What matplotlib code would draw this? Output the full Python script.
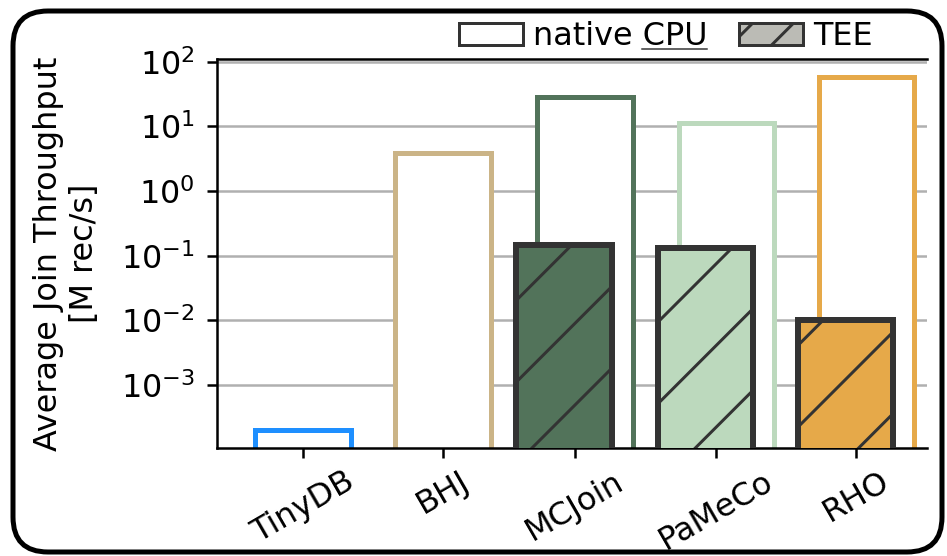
import numpy as np
import matplotlib
matplotlib.use('Agg')
import matplotlib.pyplot as plt
from matplotlib.patches import Patch, FancyBboxPatch
from matplotlib.lines import Line2D
from matplotlib.ticker import LogLocator, NullLocator
from matplotlib.transforms import IdentityTransform

# rendered at a high dpi; sizes below are given in pixels
DPI = 490
PX = 72.0 / DPI  # one pixel in points

# throughput in M rec/s (nan = no TEE run)
joins = ['TinyDB', 'BHJ', 'MCJoin', 'PaMeCo', 'RHO']
native_cpu = [2.0e-4, 3.9, 28.5, 11.1, 58.0]
tee = [np.nan, np.nan, 0.147, 0.134, 0.0102]
join_colors = ['#1e8fff', '#cbb487', '#52735a', '#bcd9bd', '#e6a949']
group_pos = [0, 1, 1.94, 2.95, 3.95]

FS = 32 * PX
bar_w = 0.68
shift = 0.075
floor = 1e-6

plt.rcParams['hatch.linewidth'] = 3 * PX

fig = plt.figure(figsize=(947 / DPI, 556 / DPI), dpi=DPI, facecolor='white')
ax = fig.add_axes([217 / 947, 108 / 556, 710 / 947, 389 / 556])

for x, nat, t, c in zip(group_pos, native_cpu, tee, join_colors):
    off = 0 if np.isnan(t) else shift
    ax.bar(x + off, nat, width=bar_w, bottom=floor, color='white',
           edgecolor=c, linewidth=5 * PX, zorder=2)
    if not np.isnan(t):
        ax.bar(x - off, t, width=bar_w, bottom=floor, color=c,
               edgecolor='#333333', linewidth=6 * PX, hatch='//', zorder=3)

ax.set_yscale('log')
ax.set_ylim(1.07e-4, 110)
ax.set_xlim(-0.614, 4.457)
ax.yaxis.set_major_locator(LogLocator(base=10, numticks=20))
ax.yaxis.set_minor_locator(NullLocator())

ax.set_xticks(group_pos)
ax.set_xticklabels(joins, rotation=30, ha='center')
ax.tick_params(axis='both', which='major', labelsize=FS, length=10 * PX,
               width=2.5 * PX, color='black')
ax.tick_params(axis='y', pad=12 * PX)
ax.tick_params(axis='x', pad=8 * PX)

ax.yaxis.grid(True, which='major', color='#b0b0b0', linewidth=2.5 * PX)
ax.set_axisbelow(True)

for side in ['left', 'bottom', 'top']:
    ax.spines[side].set_linewidth(2.5 * PX)
ax.spines['right'].set_visible(False)

ax.set_ylabel('Average Join Throughput\n[M rec/s]', fontsize=FS)
ax.yaxis.set_label_coords(-0.165, 0.5)

handles = [
    Patch(facecolor='white', edgecolor='#333333', linewidth=3 * PX, label='native CPU'),
    Patch(facecolor='#bbbbb5', edgecolor='#333333', linewidth=3 * PX, hatch='////', label='TEE'),
]
leg = ax.legend(handles=handles, loc='lower right', bbox_to_anchor=(0.941, 0.985),
                ncol=2, frameon=False, fontsize=FS, handletextpad=0.3,
                columnspacing=1.0, borderaxespad=0)

# rounded frame around the whole figure (pixel coordinates)
frame = FancyBboxPatch((13, 4), 929, 541, boxstyle='round,pad=0,rounding_size=35',
                       transform=IdentityTransform(), fill=False,
                       edgecolor='black', linewidth=5 * PX)
fig.add_artist(frame)

# underline "CPU" in the legend label
fig.canvas.draw()
renderer = fig.canvas.get_renderer()
bb = leg.get_texts()[0].get_window_extent(renderer)
probe = fig.text(0, 0, 'CPU', fontsize=FS)
cpu_w = probe.get_window_extent(renderer).width
probe.remove()
fig.add_artist(Line2D([bb.x1 - cpu_w, bb.x1], [bb.y0 + 3, bb.y0 + 3],
                      transform=IdentityTransform(), color='#333333',
                      linewidth=1.5 * PX))

fig.savefig('out.png', dpi=DPI)
